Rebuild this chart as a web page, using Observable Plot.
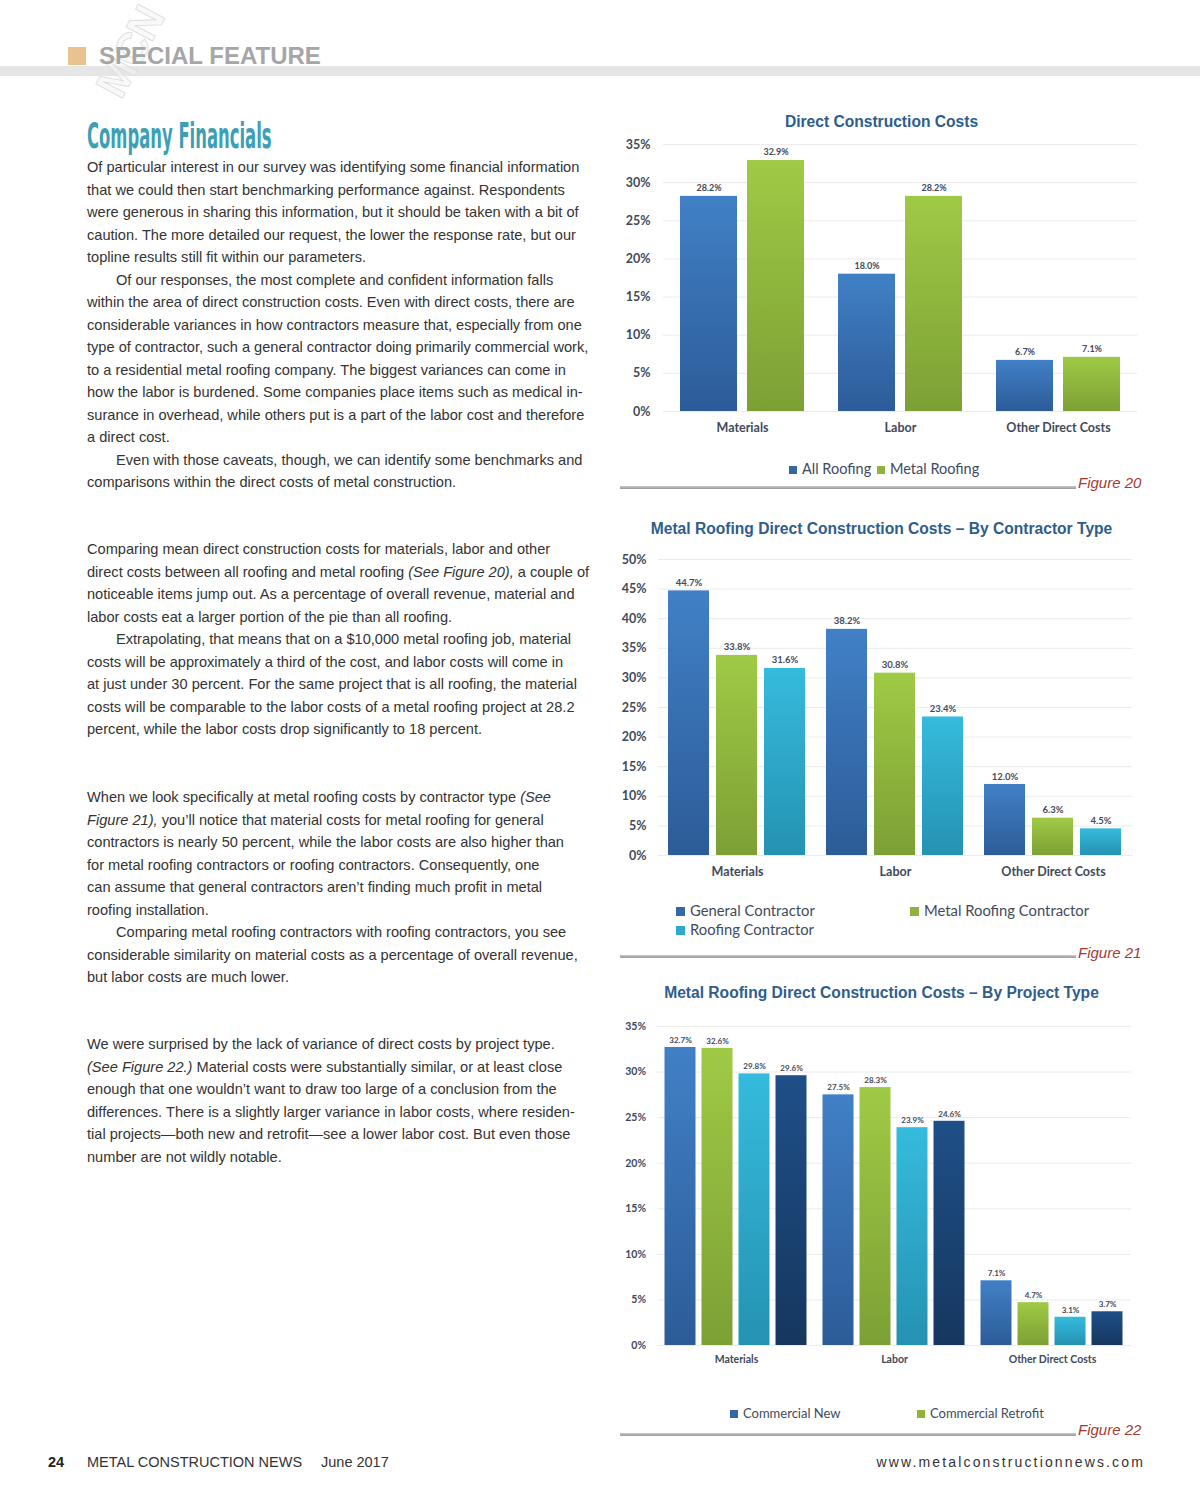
<!DOCTYPE html>
<html>
<head>
<meta charset="utf-8">
<script src="https://cdn.jsdelivr.net/npm/d3@7"></script>
<script src="https://cdn.jsdelivr.net/npm/@observablehq/plot@0.6"></script>
<style>
  html, body { margin: 0; padding: 0; background: #fff; }
  #page { position: relative; width: 1200px; height: 1504px; overflow: hidden; background: #fff; }
  .abs { position: absolute; white-space: nowrap; }
  .body { font-family: "Liberation Sans", Arial, sans-serif; font-size: 14.6px; line-height: 22.5px; color: #333; }
  .body i { font-style: italic; }
  .ind { padding-left: 29px; }
  .ctitle { font-family: "Liberation Sans", Arial, sans-serif; font-weight: bold; font-size: 15.6px; color: #2f5d8c; text-align: center; }
  .legend { font-family: Lato, "Open Sans", sans-serif; color: #3f4a5c; }
  .sw { display: inline-block; margin-right: 5px; vertical-align: 0px; }
  .figline { position: absolute; height: 3px; background: linear-gradient(#c8c8c8, #9a9a9a); }
  .figcap { font-family: "Liberation Sans", Arial, sans-serif; font-style: italic; font-size: 15px; color: #a63a30; }
  .chart { position: absolute; }
  .chart svg { overflow: visible; }
</style>
</head>
<body>
<div id="page">
  <!-- header -->
  <div style="position:absolute; left:0; top:66px; width:1200px; height:10px; background:#e6e6e6;"></div>
  <div class="abs" style="left:80px; top:30px; width:100px; text-align:center; font-family:'Liberation Sans',Arial; font-weight:bold; font-size:44px; line-height:44px; color:rgba(245,245,245,0.6); -webkit-text-stroke:0.8px #dcdcdc; transform:rotate(-62deg); transform-origin:50% 50%; letter-spacing:-2px;">MCN</div>
  <div style="position:absolute; left:68px; top:47px; width:18px; height:18px; background:#e8c38f;"></div>
  <div class="abs" style="left:99px; top:44px; font-family:'Liberation Sans',Arial; font-weight:bold; font-size:24px; line-height:24px; color:#a6a6a6;">SPECIAL FEATURE</div>

  <!-- article title -->
  <div class="abs" style="left:87px; top:116px; font-family:'Liberation Sans Narrow','DejaVu Sans Condensed',sans-serif; font-weight:bold; font-size:36px; line-height:40px; color:#3d9fb6; transform:scaleX(0.507); transform-origin:0 0;">Company Financials</div>

  <!-- body text -->
  <div class="abs body" style="left:87px; top:156px;">
    <div>Of particular interest in our survey was identifying some financial information</div>
    <div>that we could then start benchmarking performance against. Respondents</div>
    <div>were generous in sharing this information, but it should be taken with a bit of</div>
    <div>caution. The more detailed our request, the lower the response rate, but our</div>
    <div>topline results still fit within our parameters.</div>
    <div class="ind">Of our responses, the most complete and confident information falls</div>
    <div>within the area of direct construction costs. Even with direct costs, there are</div>
    <div>considerable variances in how contractors measure that, especially from one</div>
    <div>type of contractor, such a general contractor doing primarily commercial work,</div>
    <div>to a residential metal roofing company. The biggest variances can come in</div>
    <div>how the labor is burdened. Some companies place items such as medical in-</div>
    <div>surance in overhead, while others put is a part of the labor cost and therefore</div>
    <div>a direct cost.</div>
    <div class="ind">Even with those caveats, though, we can identify some benchmarks and</div>
    <div>comparisons within the direct costs of metal construction.</div>
  </div>
  <div class="abs body" style="left:87px; top:538px;">
    <div>Comparing mean direct construction costs for materials, labor and other</div>
    <div>direct costs between all roofing and metal roofing <i>(See Figure 20),</i> a couple of</div>
    <div>noticeable items jump out. As a percentage of overall revenue, material and</div>
    <div>labor costs eat a larger portion of the pie than all roofing.</div>
    <div class="ind">Extrapolating, that means that on a $10,000 metal roofing job, material</div>
    <div>costs will be approximately a third of the cost, and labor costs will come in</div>
    <div>at just under 30 percent. For the same project that is all roofing, the material</div>
    <div>costs will be comparable to the labor costs of a metal roofing project at 28.2</div>
    <div>percent, while the labor costs drop significantly to 18 percent.</div>
  </div>
  <div class="abs body" style="left:87px; top:786px;">
    <div>When we look specifically at metal roofing costs by contractor type <i>(See</i></div>
    <div><i>Figure 21),</i> you’ll notice that material costs for metal roofing for general</div>
    <div>contractors is nearly 50 percent, while the labor costs are also higher than</div>
    <div>for metal roofing contractors or roofing contractors. Consequently, one</div>
    <div>can assume that general contractors aren’t finding much profit in metal</div>
    <div>roofing installation.</div>
    <div class="ind">Comparing metal roofing contractors with roofing contractors, you see</div>
    <div>considerable similarity on material costs as a percentage of overall revenue,</div>
    <div>but labor costs are much lower.</div>
  </div>
  <div class="abs body" style="left:87px; top:1033px;">
    <div>We were surprised by the lack of variance of direct costs by project type.</div>
    <div><i>(See Figure 22.)</i> Material costs were substantially similar, or at least close</div>
    <div>enough that one wouldn’t want to draw too large of a conclusion from the</div>
    <div>differences. There is a slightly larger variance in labor costs, where residen-</div>
    <div>tial projects—both new and retrofit—see a lower labor cost. But even those</div>
    <div>number are not wildly notable.</div>
  </div>

  <!-- chart titles -->
  <div class="abs ctitle" style="left:620px; width:523px; top:113px;" id="t20"></div>
  <div class="abs ctitle" style="left:620px; width:523px; top:520px;" id="t21"></div>
  <div class="abs ctitle" style="left:620px; width:523px; top:984px;" id="t22"></div>

  <!-- chart containers -->
  <div class="chart" id="c20" style="left:620px; top:130px;"></div>
  <div class="chart" id="c21" style="left:620px; top:545px;"></div>
  <div class="chart" id="c22" style="left:620px; top:1012px;"></div>

  <!-- legends -->
  <div class="abs legend" id="l20" style="left:789px; top:460px; font-size:14.5px;"></div>
  <div class="abs legend" id="l21" style="left:676px; top:901px; font-size:14.8px; line-height:19px;"></div>
  <div class="abs legend" id="l22" style="left:730px; top:1405px; font-size:13px;"></div>

  <!-- figure rules and captions -->
  <div class="figline" style="left:620px; top:486px; width:456px;"></div>
  <div class="abs figcap" style="left:1078px; top:474px;">Figure 20</div>
  <div class="figline" style="left:620px; top:955px; width:456px;"></div>
  <div class="abs figcap" style="left:1078px; top:944px;">Figure 21</div>
  <div class="figline" style="left:620px; top:1433px; width:456px;"></div>
  <div class="abs figcap" style="left:1078px; top:1421px;">Figure 22</div>

  <!-- footer -->
  <div class="abs" style="left:48px; top:1454px; font-family:'Liberation Sans',Arial; font-weight:bold; font-size:14.5px; color:#222;">24</div>
  <div class="abs" style="left:87px; top:1454px; font-family:'Liberation Sans',Arial; font-size:14.5px; color:#333;">METAL CONSTRUCTION NEWS</div>
  <div class="abs" style="left:321px; top:1454px; font-family:'Liberation Sans',Arial; font-size:14.5px; color:#333;">June 2017</div>
  <div class="abs" style="right:55px; top:1454px; font-family:'Liberation Sans',Arial; font-size:14px; letter-spacing:2.15px; color:#333;">www.metalconstructionnews.com</div>
</div>

<script>
// ---------------- data ----------------
const categories = ["Materials", "Labor", "Other Direct Costs"];

const fig20Title = "Direct Construction Costs";
const fig20Series = ["All Roofing", "Metal Roofing"];
const fig20AllRoofing = [28.2, 18.0, 6.7];
const fig20MetalRoofing = [32.9, 28.2, 7.1];
const fig20Ticks = [0, 5, 10, 15, 20, 25, 30, 35];

const fig21Title = "Metal Roofing Direct Construction Costs – By Contractor Type";
const fig21Series = ["General Contractor", "Metal Roofing Contractor", "Roofing Contractor"];
const fig21General = [44.7, 38.2, 12.0];
const fig21MetalRoofing = [33.8, 30.8, 6.3];
const fig21Roofing = [31.6, 23.4, 4.5];
const fig21Ticks = [0, 5, 10, 15, 20, 25, 30, 35, 40, 45, 50];

const fig22Title = "Metal Roofing Direct Construction Costs – By Project Type";
const fig22Series = ["Commercial New", "Commercial Retrofit", "Residential New", "Residential Retrofit"];
const fig22CommercialNew = [32.7, 27.5, 7.1];
const fig22CommercialRetrofit = [32.6, 28.3, 4.7];
const fig22ResidentialNew = [29.8, 23.9, 3.1];
const fig22ResidentialRetrofit = [29.6, 24.6, 3.7];
const fig22Ticks = [0, 5, 10, 15, 20, 25, 30, 35];
const fig22LegendShown = ["Commercial New", "Commercial Retrofit"];

// palette: [top, bottom, swatch]
const palette = {
  blue:  ["#4180c6", "#2c5c98", "#3467a8"],
  green: ["#9fca45", "#7da035", "#8db23d"],
  cyan:  ["#35bbdd", "#2592b2", "#2ea8cb"],
  navy:  ["#1f4f88", "#15375f", "#1b4476"]
};

// ---------------- helpers ----------------
function rows(series, arrays) {
  const out = [];
  series.forEach((s, i) => arrays[i].forEach((v, j) => out.push({category: categories[j], series: s, value: v})));
  return out;
}

function chart(opts) {
  const {id, series, data, ticks, colors, width, height, marginLeft, marginRight, marginTop, marginBottom,
         xPadInner, xPadOuter, tickPad, fxPad, axisSize, labelSize, labelDy} = opts;
  const gradIds = colors.map((c, i) => `${id}-g${i}`);
  const svg = Plot.plot({
    width, height, marginLeft, marginRight, marginTop, marginBottom,
    style: {fontFamily: "Lato, 'Open Sans', sans-serif", fontSize: axisSize + "px", color: "#3f4a5c", fontWeight: "bold", background: "transparent", overflow: "visible"},
    fx: {domain: categories, padding: 0, label: null, tickSize: 0, tickPadding: fxPad, axis: "bottom"},
    x: {domain: series, paddingInner: xPadInner, paddingOuter: xPadOuter, axis: null},
    y: {domain: [0, d3.max(ticks)], ticks, tickFormat: d => d + "%", label: null, tickSize: 0, tickPadding: tickPad},
    color: {domain: series, range: gradIds.map(g => `url(#${g})`)},
    marks: [
      Plot.gridY(ticks, {stroke: "#ebebeb", strokeOpacity: 1}),
      Plot.barY(data, {fx: "category", x: "series", y: "value", fill: "series"}),
      Plot.text(data, {fx: "category", x: "series", y: "value", text: d => d.value.toFixed(1) + "%",
                       dy: labelDy, fontSize: labelSize, fontWeight: "bold", fill: "#3f4a5c"})
    ]
  });
  const ns = "http://www.w3.org/2000/svg";
  const defs = document.createElementNS(ns, "defs");
  colors.forEach((c, i) => {
    const lg = document.createElementNS(ns, "linearGradient");
    lg.setAttribute("id", gradIds[i]);
    lg.setAttribute("x1", "0"); lg.setAttribute("y1", "0");
    lg.setAttribute("x2", "0"); lg.setAttribute("y2", "1");
    [[0, palette[c][0]], [1, palette[c][1]]].forEach(([o, col]) => {
      const st = document.createElementNS(ns, "stop");
      st.setAttribute("offset", o); st.setAttribute("stop-color", col);
      lg.appendChild(st);
    });
    defs.appendChild(lg);
  });
  svg.insertBefore(defs, svg.firstChild);
  document.getElementById(id).appendChild(svg);
}

function legend(id, items, colors, size, layout) {
  const el = document.getElementById(id);
  items.forEach((s, i) => {
    const span = document.createElement("span");
    span.style.position = "absolute";
    span.style.left = layout[i][0] + "px";
    span.style.top = layout[i][1] + "px";
    span.style.whiteSpace = "nowrap";
    const sw = document.createElement("span");
    sw.className = "sw";
    sw.style.width = size + "px"; sw.style.height = size + "px";
    sw.style.background = palette[colors[i]][2];
    span.appendChild(sw);
    span.appendChild(document.createTextNode(s));
    el.appendChild(span);
  });
}

document.getElementById("t20").textContent = fig20Title;
document.getElementById("t21").textContent = fig21Title;
document.getElementById("t22").textContent = fig22Title;

// Figure 20
chart({
  id: "c20", series: fig20Series, data: rows(fig20Series, [fig20AllRoofing, fig20MetalRoofing]),
  ticks: fig20Ticks, colors: ["blue", "green"],
  width: 530, height: 311, marginLeft: 43, marginRight: 13, marginTop: 14, marginBottom: 30,
  xPadInner: 0.154, xPadOuter: 0.239, tickPad: 13, fxPad: 12, axisSize: 12.5, labelSize: 9, labelDy: -8
});
legend("l20", fig20Series, ["blue", "green"], 8, [[0, 0], [88, 0]]);

// Figure 21
chart({
  id: "c21", series: fig21Series, data: rows(fig21Series, [fig21General, fig21MetalRoofing, fig21Roofing]),
  ticks: fig21Ticks, colors: ["blue", "green", "cyan"],
  width: 530, height: 340, marginLeft: 38, marginRight: 18, marginTop: 14, marginBottom: 30,
  xPadInner: 0.144, xPadOuter: 0.2, tickPad: 12, fxPad: 12, axisSize: 12.5, labelSize: 9.5, labelDy: -8
});
legend("l21", fig21Series, ["blue", "green", "cyan"], 9, [[0, 0], [234, 0], [0, 19]]);

// Figure 22
chart({
  id: "c22", series: fig22Series,
  data: rows(fig22Series, [fig22CommercialNew, fig22CommercialRetrofit, fig22ResidentialNew, fig22ResidentialRetrofit]),
  ticks: fig22Ticks, colors: ["blue", "green", "cyan", "navy"],
  width: 530, height: 361, marginLeft: 36.5, marginRight: 19.5, marginTop: 14, marginBottom: 28,
  xPadInner: 0.162, xPadOuter: 0.216, tickPad: 11.5, fxPad: 10, axisSize: 10.5, labelSize: 8, labelDy: -7
});
legend("l22", fig22LegendShown, ["blue", "green"], 8, [[0, 0], [187, 0]]);
</script>
</body>
</html>
